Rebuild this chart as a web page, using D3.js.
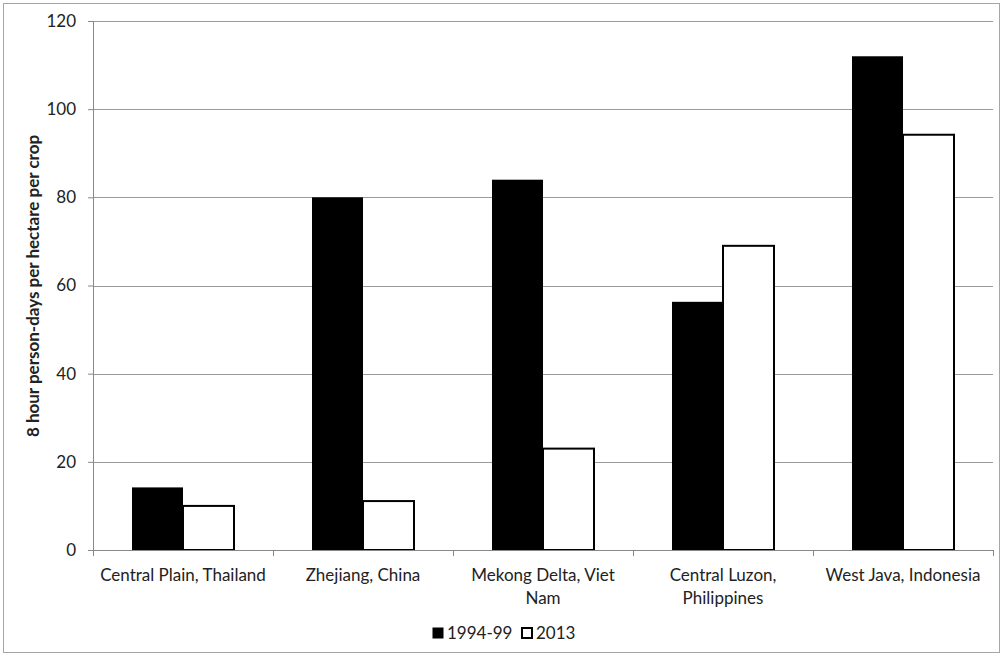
<!DOCTYPE html>
<html>
<head>
<meta charset="utf-8">
<script src="https://cdn.jsdelivr.net/npm/d3@7"></script>
<style>
  body { margin: 0; background: #fff; }
  svg text { font-family: Lato, "Open Sans", sans-serif; fill: #222; }
</style>
</head>
<body>
<div id="canvas"></div>
<script>
// chart data
var categories = [
  "Central Plain, Thailand",
  "Zhejiang, China",
  "Mekong Delta, Viet Nam",
  "Central Luzon, Philippines",
  "West Java, Indonesia",
];
// tick labels, wrapped as in the original
var tickLabels = [
  ["Central Plain, Thailand"],
  ["Zhejiang, China"],
  ["Mekong Delta, Viet", "Nam"],
  ["Central Luzon,", "Philippines"],
  ["West Java, Indonesia"],
];
var seriesNames = ["1994-99", "2013"];
var values1994 = [14.2, 80, 84, 56.3, 112];
var values2013 = [10, 11.1, 23, 69, 94.2];
var yTicks = [0, 20, 40, 60, 80, 100, 120];

var width = 1003,
  height = 656;
var margin = { top: 21, right: 10, bottom: 106, left: 93 };
var plotW = 900,
  plotH = 529;
var fontSize = 17;

var svg = d3
  .select("#canvas")
  .append("svg")
  .attr("width", width)
  .attr("height", height);

// outer frame
svg
  .append("rect")
  .attr("x", 3.5)
  .attr("y", 3.5)
  .attr("width", width - 7)
  .attr("height", height - 7)
  .attr("fill", "none")
  .attr("stroke", "#a6a6a6");

var g = svg
  .append("g")
  .attr("transform", "translate(" + margin.left + "," + margin.top + ")");

var x = d3.scaleBand().domain(categories).range([0, plotW]).padding(0);
var xInner = d3.scaleBand().domain(seriesNames).range([39, 141]);
var y = d3.scaleLinear().domain([0, 120]).range([plotH, 0]);

// gridlines
g.selectAll("line.grid")
  .data(yTicks.slice(1))
  .enter()
  .append("line")
  .attr("class", "grid")
  .attr("x1", 0)
  .attr("x2", plotW)
  .attr("y1", (d) => Math.round(y(d)) + 0.5)
  .attr("y2", (d) => Math.round(y(d)) + 0.5)
  .attr("stroke", "#9a9a9a");

// bars
var rows = categories.map((c, i) => ({
  cat: c,
  vals: [values1994[i], values2013[i]],
}));
var groups = g
  .selectAll("g.cat")
  .data(rows)
  .enter()
  .append("g")
  .attr("transform", (d) => "translate(" + x(d.cat) + ",0)");

groups
  .append("rect")
  .attr("x", xInner("1994-99"))
  .attr("y", (d) => y(d.vals[0]))
  .attr("width", xInner.bandwidth())
  .attr("height", (d) => plotH - y(d.vals[0]))
  .attr("fill", "#000");

groups
  .append("rect")
  .attr("x", xInner("2013"))
  .attr("y", (d) => y(d.vals[1]))
  .attr("width", xInner.bandwidth())
  .attr("height", (d) => plotH - y(d.vals[1]))
  .attr("fill", "#fff")
  .attr("stroke", "#000")
  .attr("stroke-width", 2);

// y axis
var yAxis = g
  .append("g")
  .call(d3.axisLeft(y).tickValues(yTicks).tickSize(5).tickPadding(12));
yAxis.select(".domain").attr("stroke", "#888");
yAxis.selectAll(".tick line").attr("stroke", "#888");
yAxis
  .selectAll(".tick text")
  .attr("font-size", fontSize)
  .attr("font-family", "Lato, sans-serif")
  .attr("fill", "#222");

// x axis
var xAxis = g
  .append("g")
  .attr("transform", "translate(0," + plotH + ")")
  .call(d3.axisBottom(x).tickSize(0).tickFormat(""));
xAxis.select(".domain").attr("stroke", "#888");
var xTickPos = d3.range(categories.length + 1).map((i) => i * x.step());
xAxis
  .selectAll("line.tk")
  .data(xTickPos)
  .enter()
  .append("line")
  .attr("x1", (d) => d + 0.5)
  .attr("x2", (d) => d + 0.5)
  .attr("y1", 0)
  .attr("y2", 6)
  .attr("stroke", "#888");

// category labels
var lbl = g
  .selectAll("text.xlbl")
  .data(categories)
  .enter()
  .append("text")
  .attr("class", "xlbl")
  .attr("text-anchor", "middle")
  .attr("font-size", fontSize)
  .attr("transform", (d) => "translate(" + (x(d) + x.bandwidth() / 2) + "," + (plotH + 31) + ")");
lbl
  .selectAll("tspan")
  .data((d, i) => tickLabels[i])
  .enter()
  .append("tspan")
  .attr("x", 0)
  .attr("dy", (d, i) => (i == 0 ? 0 : 23))
  .text((d) => d);

// y axis title
svg
  .append("text")
  .attr("transform", "translate(39,286) rotate(-90)")
  .attr("text-anchor", "middle")
  .attr("font-size", fontSize)
  .attr("font-weight", "bold")
  .text("8 hour person-days per hectare per crop");

// legend
var legend = svg.append("g").attr("transform", "translate(432,633)");
var legItems = legend
  .selectAll("g")
  .data(seriesNames)
  .enter()
  .append("g")
  .attr("transform", (d, i) => "translate(" + i * 89 + ",0)");
legItems
  .append("rect")
  .attr("x", 1)
  .attr("y", -5)
  .attr("width", 10)
  .attr("height", 10)
  .attr("fill", (d, i) => (i == 0 ? "#000" : "#fff"))
  .attr("stroke", "#000")
  .attr("stroke-width", (d, i) => (i == 0 ? 1 : 2));
legItems
  .append("text")
  .attr("x", 15)
  .attr("y", 6)
  .attr("font-size", fontSize)
  .text((d) => d);
</script>
</body>
</html>
